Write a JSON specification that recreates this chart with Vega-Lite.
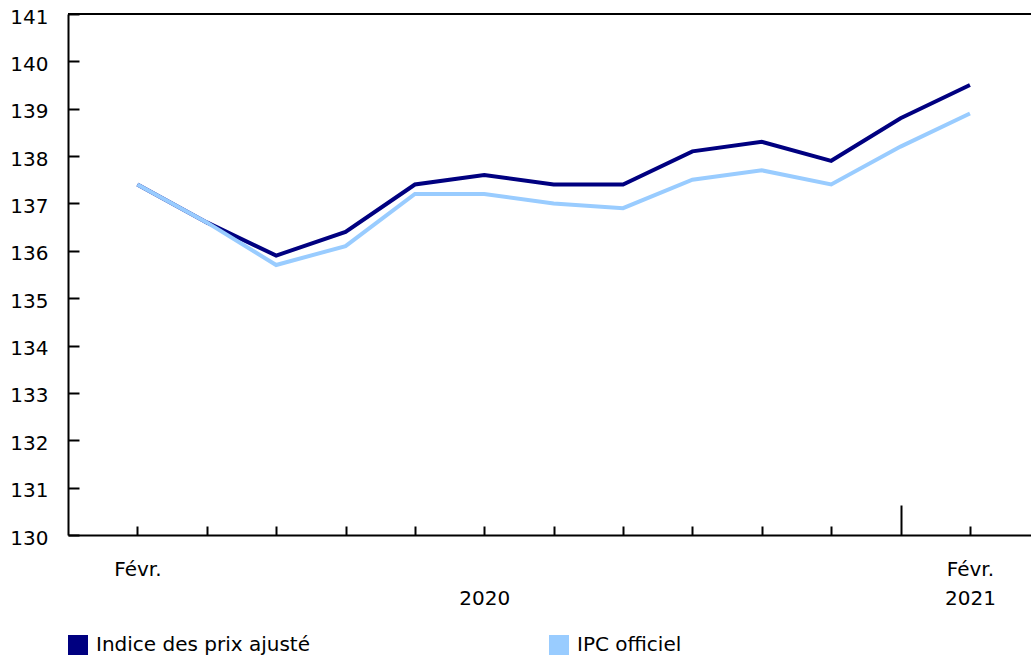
{
  "$schema": "https://vega.github.io/schema/vega-lite/v6.json",
  "width": 963,
  "height": 521,
  "autosize": {"type": "none"},
  "padding": {"left": 68, "top": 14, "right": 0, "bottom": 121},
  "background": "white",
  "config": {
    "view": {"stroke": null},
    "font": "DejaVu Sans",
    "axis": {"labelFont": "DejaVu Sans", "labelFontSize": 20, "labelColor": "black", "domainColor": "black", "domainWidth": 2, "tickColor": "black", "tickWidth": 2, "grid": false, "title": null}
  },
  "data": {
    "values": [
      {"idx": 0, "month": "2020-02", "series": "Indice des prix ajusté", "value": 137.4},
      {"idx": 1, "month": "2020-03", "series": "Indice des prix ajusté", "value": 136.6},
      {"idx": 2, "month": "2020-04", "series": "Indice des prix ajusté", "value": 135.9},
      {"idx": 3, "month": "2020-05", "series": "Indice des prix ajusté", "value": 136.4},
      {"idx": 4, "month": "2020-06", "series": "Indice des prix ajusté", "value": 137.4},
      {"idx": 5, "month": "2020-07", "series": "Indice des prix ajusté", "value": 137.6},
      {"idx": 6, "month": "2020-08", "series": "Indice des prix ajusté", "value": 137.4},
      {"idx": 7, "month": "2020-09", "series": "Indice des prix ajusté", "value": 137.4},
      {"idx": 8, "month": "2020-10", "series": "Indice des prix ajusté", "value": 138.1},
      {"idx": 9, "month": "2020-11", "series": "Indice des prix ajusté", "value": 138.3},
      {"idx": 10, "month": "2020-12", "series": "Indice des prix ajusté", "value": 137.9},
      {"idx": 11, "month": "2021-01", "series": "Indice des prix ajusté", "value": 138.8},
      {"idx": 12, "month": "2021-02", "series": "Indice des prix ajusté", "value": 139.5},
      {"idx": 0, "month": "2020-02", "series": "IPC officiel", "value": 137.4},
      {"idx": 1, "month": "2020-03", "series": "IPC officiel", "value": 136.6},
      {"idx": 2, "month": "2020-04", "series": "IPC officiel", "value": 135.7},
      {"idx": 3, "month": "2020-05", "series": "IPC officiel", "value": 136.1},
      {"idx": 4, "month": "2020-06", "series": "IPC officiel", "value": 137.2},
      {"idx": 5, "month": "2020-07", "series": "IPC officiel", "value": 137.2},
      {"idx": 6, "month": "2020-08", "series": "IPC officiel", "value": 137.0},
      {"idx": 7, "month": "2020-09", "series": "IPC officiel", "value": 136.9},
      {"idx": 8, "month": "2020-10", "series": "IPC officiel", "value": 137.5},
      {"idx": 9, "month": "2020-11", "series": "IPC officiel", "value": 137.7},
      {"idx": 10, "month": "2020-12", "series": "IPC officiel", "value": 137.4},
      {"idx": 11, "month": "2021-01", "series": "IPC officiel", "value": 138.2},
      {"idx": 12, "month": "2021-02", "series": "IPC officiel", "value": 138.9}
    ]
  },
  "layer": [
    {
      "mark": {"type": "rule", "color": "black", "strokeWidth": 2},
      "encoding": {"y": {"datum": 141, "scale": {"domain": [130, 141], "nice": false, "zero": false}}}
    },
    {
      "transform": [{"filter": "false"}],
      "mark": {"type": "square", "filled": true, "stroke": "black", "strokeWidth": 2, "opacity": 1, "size": 324},
      "encoding": {
        "x": {"field": "idx", "type": "quantitative", "scale": {"domain": [-1, 12.88], "nice": false, "zero": false},
          "axis": {"values": [0,1,2,3,4,5,6,7,8,9,10,11,12], "tickSize": {"condition": {"test": "datum.value == 11", "value": -30}, "value": -9}, "labelPadding": 33, "labelLineHeight": 29, "labelBaseline": "top",
            "labelExpr": "datum.value == 0 ? 'Févr.' : datum.value == 5 ? ['', '2020'] : datum.value == 12 ? ['Févr.', '2021'] : ''"}},
        "y": {"field": "value", "type": "quantitative", "scale": {"domain": [130, 141], "nice": false, "zero": false},
          "axis": {"values": [130,131,132,133,134,135,136,137,138,139,140,141], "tickSize": -11, "labelPadding": 31, "labelOffset": 3}},
        "fill": {"field": "series", "type": "nominal",
          "scale": {"domain": ["Indice des prix ajusté", "IPC officiel"], "range": ["#000080", "#99ccff"]},
          "legend": {"title": null, "orient": "none", "legendX": 0, "legendY": 621, "direction": "horizontal", "padding": 0,
            "symbolType": "square", "symbolSize": 324, "symbolStrokeColor": "black", "symbolStrokeWidth": 2, "symbolOpacity": 1,
            "labelFont": "DejaVu Sans", "labelFontSize": 20, "labelColor": "black", "labelLimit": 500, "columnPadding": 236, "symbolOffset": 0, "labelOffset": 8,
            "encode": {"symbols": {"update": {"stroke": {"value": "black"}, "strokeWidth": {"value": 2}, "strokeOpacity": {"value": 1}}}}}}
      }
    },
    {
      "transform": [{"filter": "datum.series == 'Indice des prix ajusté'"}],
      "mark": {"type": "line", "strokeWidth": 4},
      "encoding": {
        "x": {"field": "idx", "type": "quantitative"},
        "y": {"field": "value", "type": "quantitative"},
        "color": {"field": "series", "type": "nominal", "legend": null,
          "scale": {"domain": ["Indice des prix ajusté", "IPC officiel"], "range": ["#000080", "#99ccff"]}}
      }
    },
    {
      "transform": [{"filter": "datum.series == 'IPC officiel'"}],
      "mark": {"type": "line", "strokeWidth": 4},
      "encoding": {
        "x": {"field": "idx", "type": "quantitative"},
        "y": {"field": "value", "type": "quantitative"},
        "color": {"field": "series", "type": "nominal", "legend": null}
      }
    }
  ]
}
